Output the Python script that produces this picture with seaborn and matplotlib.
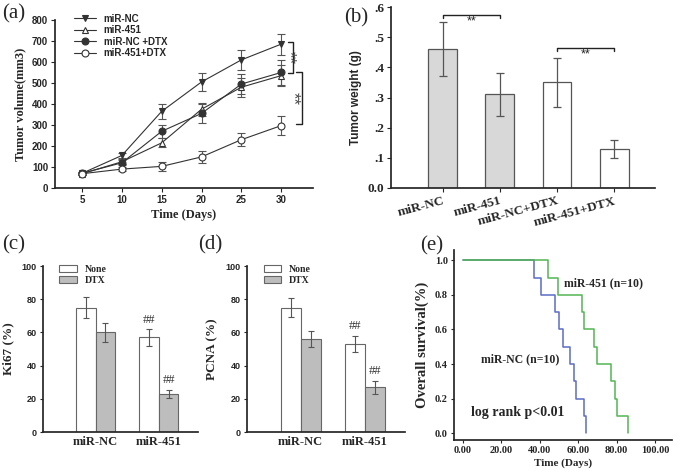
import numpy as np
import pandas as pd
import matplotlib
matplotlib.use("Agg")
import matplotlib.pyplot as plt
import seaborn as sns

sns.set_theme(style="ticks")
plt.rcParams["font.family"] = ["Liberation Sans", "DejaVu Sans"]

SERIF = "Liberation Serif"
SANS = "Liberation Sans"

# ---------------- data ----------------
# (a) tumor volume
days = [5, 10, 15, 20, 25, 30]
vol_nc = [70, 155, 365, 505, 610, 685]
vol_nc_err = [6, 10, 35, 42, 47, 50]
vol_451 = [68, 125, 215, 375, 480, 535]
vol_451_err = [5, 12, 22, 30, 45, 50]
vol_nc_dtx = [70, 120, 270, 355, 495, 550]
vol_nc_dtx_err = [5, 12, 30, 45, 48, 60]
vol_451_dtx = [68, 90, 103, 148, 230, 297]
vol_451_dtx_err = [5, 8, 20, 28, 30, 47]

# (b) tumor weight
groups_b = ["miR-NC", "miR-451", "miR-NC+DTX", "miR-451+DTX"]
weight = [0.46, 0.31, 0.35, 0.13]
weight_err = [0.09, 0.07, 0.08, 0.03]

# (c) / (d)
groups_cd = ["miR-NC", "miR-451"]
ki67_none = [75, 57]
ki67_none_err = [6.5, 5]
ki67_dtx = [60, 23]
ki67_dtx_err = [5.5, 2.5]
pcna_none = [75, 53]
pcna_none_err = [6, 5]
pcna_dtx = [56, 27]
pcna_dtx_err = [5, 4]

# (e) survival
surv_level = [1.0, 0.9, 0.8, 0.7, 0.6, 0.5, 0.4, 0.3, 0.2, 0.1, 0.0]
nc_time = [0, 37, 40.5, 48, 50, 52, 56, 58, 59, 63, 64]
m451_time = [0, 44.5, 49.5, 62, 63, 68, 70, 77, 79, 80, 86]

LINE = "#333333"
ERR = "#555555"

fig = plt.figure(figsize=(6.8, 4.75), dpi=100)


def px_axes(x0, y0, x1, y1):
    # pixel box (top-left origin) -> figure axes
    return fig.add_axes([x0 / 680, 1 - y1 / 475, (x1 - x0) / 680, (y1 - y0) / 475])


def style_ticks(ax, family, size):
    for lab in ax.get_xticklabels() + ax.get_yticklabels():
        lab.set_fontfamily(family)
        lab.set_fontweight("bold")
        lab.set_fontsize(size)


# ---------------- (a) ----------------
ax = px_axes(55, 20, 313, 188)
series = [
    ("miR-NC", vol_nc, vol_nc_err, "v", LINE),
    ("miR-451", vol_451, vol_451_err, "^", "white"),
    ("miR-NC +DTX", vol_nc_dtx, vol_nc_dtx_err, "o", LINE),
    ("miR-451+DTX", vol_451_dtx, vol_451_dtx_err, "o", "white"),
]
for name, vals, errs, mk, face in series:
    ax.errorbar(days, vals, yerr=errs, fmt="none", ecolor=ERR, elinewidth=0.8,
                capsize=3, capthick=0.8, zorder=1)
    sns.lineplot(x=days, y=vals, ax=ax, color=LINE, lw=0.8, marker=mk,
                 markersize=5, markerfacecolor=face, markeredgecolor=LINE,
                 markeredgewidth=0.8, label=name, zorder=2)
ax.set_xlim(1.6, 34)
ax.set_ylim(0, 800)
ax.set_xticks(days)
ax.set_yticks(range(0, 801, 100))
ax.set_xlabel("Time (Days)", fontfamily=SERIF, fontweight="bold", fontsize=9, labelpad=3)
ax.set_ylabel("Tumor volume(mm3)", fontfamily=SERIF, fontweight="bold", fontsize=9, labelpad=4)
ax.tick_params(length=3, width=0.8, pad=2)
style_ticks(ax, SANS, 7)
leg = ax.legend(loc="upper left", bbox_to_anchor=(0.06, 1.06), frameon=False,
                handlelength=2.2, labelspacing=0.15, borderaxespad=0,
                prop={"family": SANS, "weight": "bold", "size": 7})
sns.despine(ax=ax)
# significance brackets
for (xv, y0, y1, xs, xt) in [(31.5, 695, 548, 30.9, 30.95), (32.6, 552, 305, 31.9, 31.55)]:
    ax.plot([xs, xv, xv, xs], [y0, y0, y1, y1], color="#222222", lw=1, clip_on=False)
    ax.text(xt, (y0 + y1) / 2, "**", rotation=270, ha="center", va="center",
            fontsize=12, color="#444444", clip_on=False)

# ---------------- (b) ----------------
ax = px_axes(391, 7, 655, 188)
df_b = pd.DataFrame({"group": groups_b, "weight": weight})
sns.barplot(data=df_b, x="group", y="weight", hue="group", legend=False,
            palette=["#d8d8d8", "#d8d8d8", "white", "white"], width=0.5,
            edgecolor="#555555", linewidth=0.9, ax=ax)
ax.errorbar(range(len(groups_b)), weight, yerr=weight_err, fmt="none", ecolor=ERR,
            elinewidth=0.9, capsize=3, capthick=0.9)
ax.set_xlim(-0.9, 3.71)
ax.set_ylim(0, 0.6)
ax.set_yticks([0, 0.1, 0.2, 0.3, 0.4, 0.5, 0.6])
ax.set_yticklabels(["0.0", ".1", ".2", ".3", ".4", ".5", ".6"])
ax.set_xticks(range(4))
ax.set_xticklabels(groups_b, rotation=15, ha="right", rotation_mode="anchor")
ax.set_xlabel("")
ax.set_ylabel("Tumor weight (g)", fontfamily=SANS, fontweight="bold", fontsize=8.5, labelpad=4)
ax.tick_params(length=3, width=0.8, pad=2)
style_ticks(ax, SERIF, 9.5)
sns.despine(ax=ax)
for (x0, x1, yb) in [(0, 1, 0.575), (2, 3, 0.465)]:
    ax.plot([x0, x0, x1, x1], [yb - 0.012, yb, yb, yb - 0.012], color="#222222", lw=1)
    ax.text((x0 + x1) / 2, yb - 0.004, "**", ha="center", va="top", fontsize=9, color="#222222")

# ---------------- (c) & (d) ----------------
def treat_panel(box, none_v, none_e, dtx_v, dtx_e, ylabel):
    ax = px_axes(*box)
    df = pd.DataFrame({
        "group": groups_cd * 2,
        "value": none_v + dtx_v,
        "treat": ["None"] * 2 + ["DTX"] * 2,
    })
    sns.barplot(data=df, x="group", y="value", hue="treat",
                palette={"None": "white", "DTX": "#bdbdbd"}, width=0.62,
                edgecolor="#666666", linewidth=0.8, ax=ax)
    for cont, errs in zip(ax.containers, [none_e, dtx_e]):
        xs = [b.get_x() + b.get_width() / 2 for b in cont]
        hs = [b.get_height() for b in cont]
        ax.errorbar(xs, hs, yerr=errs, fmt="none", ecolor=ERR, elinewidth=0.8,
                    capsize=2.5, capthick=0.8)
        # ## marks over miR-451
        ax.text(xs[1], hs[1] + errs[1] + 2, "##", ha="center", va="bottom",
                fontsize=9, fontfamily=SERIF, color="#333333")
    ax.set_xlim(-0.83, 1.62)
    ax.set_ylim(0, 100)
    ax.set_yticks(range(0, 101, 20))
    ax.set_xlabel("")
    ax.set_ylabel(ylabel, fontfamily=SERIF, fontweight="bold", fontsize=9.5, labelpad=5)
    ax.tick_params(axis="y", length=2.5, width=0.8, pad=2)
    ax.tick_params(axis="x", length=0, pad=3)
    style_ticks(ax, SANS, 6.5)
    for lab in ax.get_xticklabels():
        lab.set_fontfamily(SERIF)
        lab.set_fontsize(9)
    ax.legend(loc="upper left", bbox_to_anchor=(0.08, 1.03), frameon=False,
              handlelength=1.8, handleheight=0.7, labelspacing=0.2, borderaxespad=0,
              prop={"family": SERIF, "weight": "bold", "size": 7})
    sns.despine(ax=ax)
    return ax


treat_panel((43, 266, 198, 432), ki67_none, ki67_none_err, ki67_dtx, ki67_dtx_err, "Ki67 (%)")
treat_panel((247, 266, 405, 432), pcna_none, pcna_none_err, pcna_dtx, pcna_dtx_err, "PCNA (%)")

# ---------------- (e) ----------------
ax = px_axes(454, 250, 672, 440)
sns.lineplot(x=nc_time, y=surv_level, ax=ax, color="#5b6cc4", lw=1.1, drawstyle="steps-post")
sns.lineplot(x=m451_time, y=surv_level, ax=ax, color="#52b552", lw=1.1, drawstyle="steps-post")
ax.set_xlim(-4.7, 108.9)
ax.set_ylim(-0.04, 1.06)
ax.set_xticks(range(0, 101, 20))
ax.set_xticklabels([f"{v:.2f}" for v in range(0, 101, 20)])
ax.set_yticks([0, 0.2, 0.4, 0.6, 0.8, 1.0])
ax.set_yticklabels([f"{v:.1f}" for v in [0, 0.2, 0.4, 0.6, 0.8, 1.0]])
ax.set_xlabel("Time (Days)", fontfamily=SERIF, fontweight="bold", fontsize=8, labelpad=2)
ax.set_ylabel("Overall survival(%)", fontfamily=SERIF, fontweight="bold", fontsize=10.5, labelpad=4)
ax.tick_params(length=2.5, width=0.8, pad=2)
style_ticks(ax, SERIF, 7.5)
sns.despine(ax=ax)
ax.text(52.6, 0.87, "miR-451 (n=10)", fontfamily=SERIF, fontweight="bold", fontsize=8.5, va="center")
ax.text(9.5, 0.43, "miR-NC (n=10)", fontfamily=SERIF, fontweight="bold", fontsize=8.5, va="center")
ax.text(4, 0.12, "log rank p<0.01", fontfamily=SERIF, fontweight="bold", fontsize=10, va="center")

# panel letters
for lab, x, y in [("(a)", 2, 14), ("(b)", 344, 18), ("(c)", 2, 245), ("(d)", 198, 245), ("(e)", 420, 246)]:
    fig.text(x / 680, 1 - y / 475, lab, fontfamily=SERIF, fontsize=15, va="center", ha="left")

fig.savefig("out.png", dpi=100)
